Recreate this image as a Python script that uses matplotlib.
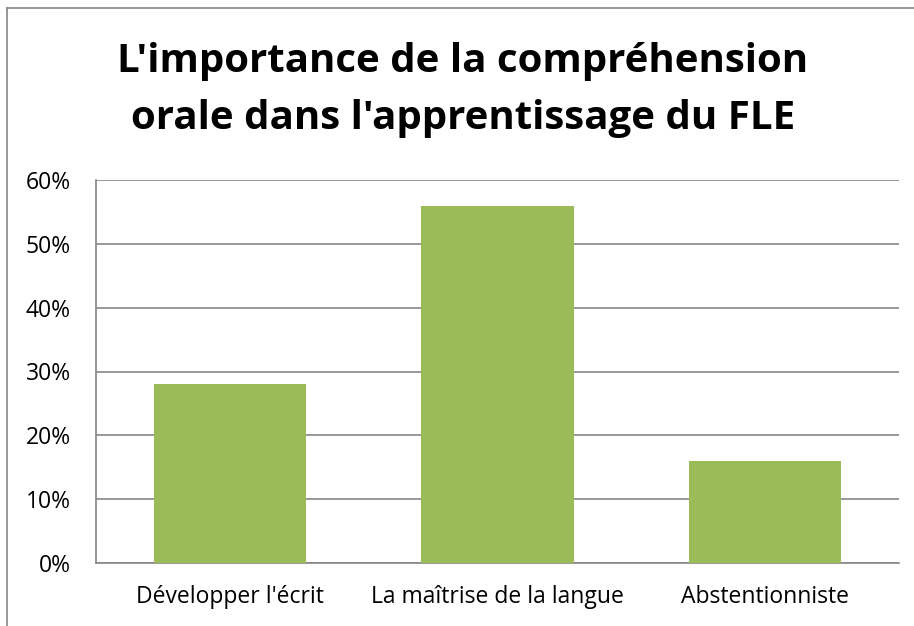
import matplotlib
matplotlib.use("Agg")
import matplotlib.pyplot as plt
from matplotlib.ticker import FuncFormatter, MultipleLocator
from matplotlib.lines import Line2D

categories = ["Développer l'écrit", "La maîtrise de la langue", "Abstentionniste"]
values = [0.28, 0.56, 0.16]
title = "L'importance de la compréhension\norale dans l'apprentissage du FLE"

plt.rcParams['font.family'] = ['Open Sans', 'DejaVu Sans']

fig = plt.figure(figsize=(9.14, 6.26), dpi=100)
ax = fig.add_axes([96/914, 63/626, (899-96)/914, (563-180)/626])

x = list(range(len(categories)))
ax.bar(x, values, width=0.57, color='#9BBB59', zorder=3)
ax.set_xlim(-0.5, len(categories) - 0.5)
ax.set_ylim(0, 0.6)
ax.yaxis.set_major_locator(MultipleLocator(0.1))
ax.yaxis.set_major_formatter(FuncFormatter(lambda v, p: f"{round(v*100)}%"))
ax.set_xticks(x)
ax.set_xticklabels(categories)
ax.grid(axis='y', color='#868686', linewidth=1.2, zorder=0)
for s in ['top', 'right']:
    ax.spines[s].set_visible(False)
for s in ['left', 'bottom']:
    ax.spines[s].set_color('#868686')
    ax.spines[s].set_linewidth(1.2)
ax.tick_params(axis='both', length=0, labelsize=16.5, colors='black')
ax.tick_params(axis='x', pad=16)
ax.tick_params(axis='y', pad=18)

fig.text(0.5 + 6/914, 0.857, title, ha='center', va='center', fontsize=29, fontweight='bold', linespacing=1.6)

fig.add_artist(Line2D([7/914, 7/914], [0, 1 - 8/626], transform=fig.transFigure, color='#868686', linewidth=1.2))
fig.add_artist(Line2D([7/914, 1], [1 - 8/626, 1 - 8/626], transform=fig.transFigure, color='#868686', linewidth=1.2))

fig.savefig("out.png", dpi=100)
